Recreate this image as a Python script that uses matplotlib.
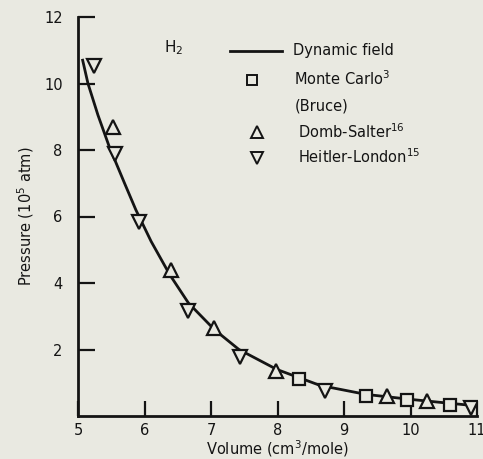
import matplotlib
matplotlib.use("Agg")
import matplotlib.pyplot as plt
from matplotlib.lines import Line2D

# dynamic field curve
vol_curve = [5.07, 5.15, 5.30, 5.47, 5.70, 5.87, 6.10, 6.38, 6.66, 7.05, 7.42, 7.99, 8.64, 9.33, 10.0, 10.6, 10.97]
p_curve = [10.7, 10.0, 9.05, 8.1, 7.0, 6.2, 5.25, 4.25, 3.4, 2.6, 2.0, 1.4, 0.92, 0.65, 0.5, 0.38, 0.31]

# Monte Carlo (Bruce)
vol_mc = [8.33, 9.33, 9.95, 10.6]
p_mc = [1.11, 0.61, 0.48, 0.34]

# Domb-Salter
vol_ds = [5.52, 6.40, 7.05, 7.98, 9.65, 10.25]
p_ds = [8.68, 4.40, 2.66, 1.34, 0.60, 0.44]

# Heitler-London
vol_hl = [5.24, 5.55, 5.92, 6.66, 7.43, 8.72, 10.91]
p_hl = [10.54, 7.87, 5.84, 3.17, 1.77, 0.75, 0.24]

xticks = [5, 6, 7, 8, 9, 10, 11]
yticks = [2, 4, 6, 8, 10, 12]

paper = '#e9e9e1'
ink = '#141414'

fig = plt.figure(figsize=(4.83, 4.59), dpi=100, facecolor=paper)
ax = fig.add_axes([78/483, 1-416/459, (477-78)/483, (416-17)/459])
ax.set_facecolor(paper)

ax.plot(vol_curve, p_curve, color=ink, lw=2.0, zorder=2, solid_joinstyle='round')
mk = dict(linestyle='none', mfc=paper, mec=ink, mew=1.6, zorder=3)
ax.plot(vol_mc, p_mc, marker='s', ms=9, **mk)
ax.plot(vol_ds, p_ds, marker='^', ms=10, **mk)
ax.plot(vol_hl, p_hl, marker='v', ms=10, **mk)

ax.set_xlim(5, 11)
ax.set_ylim(0, 12)
ax.set_xticks(xticks)
ax.set_yticks(yticks)
for s in ['top', 'right']:
    ax.spines[s].set_visible(False)
for s in ['left', 'bottom']:
    ax.spines[s].set_linewidth(2.0)
    ax.spines[s].set_color(ink)
ax.tick_params(axis='x', direction='in', length=11, width=1.6, pad=5, colors=ink, labelsize=10.5)
ax.tick_params(axis='y', direction='in', length=12, width=1.6, pad=11, colors=ink, labelsize=10.5)

ax.set_xlabel('Volume (cm$^3$/mole)', fontsize=10.5, color=ink, labelpad=0)
ax.set_ylabel('Pressure (10$^5$ atm)', fontsize=10.5, color=ink, labelpad=6)

# hand-made legend, in pixel-ish figure coords
def fxy(px, py):
    return px/483, 1-py/459

fig.text(*fxy(164, 48), 'H$_2$', fontsize=11, color=ink, va='center')
fig.add_artist(Line2D([230/483, 282/483], [1-51/459, 1-51/459], color=ink, lw=2.0))
lm = dict(linestyle='none', mfc=paper, mec=ink, mew=1.4)
fig.add_artist(Line2D([252/483], [1-80/459], marker='s', ms=7, **lm))
fig.add_artist(Line2D([257/483], [1-132/459], marker='^', ms=8, **lm))
fig.add_artist(Line2D([257/483], [1-158/459], marker='v', ms=8, **lm))
fig.text(*fxy(293, 50), 'Dynamic field', fontsize=10.5, color=ink, va='center')
fig.text(*fxy(294, 79), 'Monte Carlo$^3$', fontsize=10.5, color=ink, va='center')
fig.text(*fxy(295, 106), '(Bruce)', fontsize=10.5, color=ink, va='center')
fig.text(*fxy(298, 132), 'Domb-Salter$^{16}$', fontsize=10.5, color=ink, va='center')
fig.text(*fxy(298, 157), 'Heitler-London$^{15}$', fontsize=10.5, color=ink, va='center')

fig.savefig('out.png', dpi=100, facecolor=paper)
